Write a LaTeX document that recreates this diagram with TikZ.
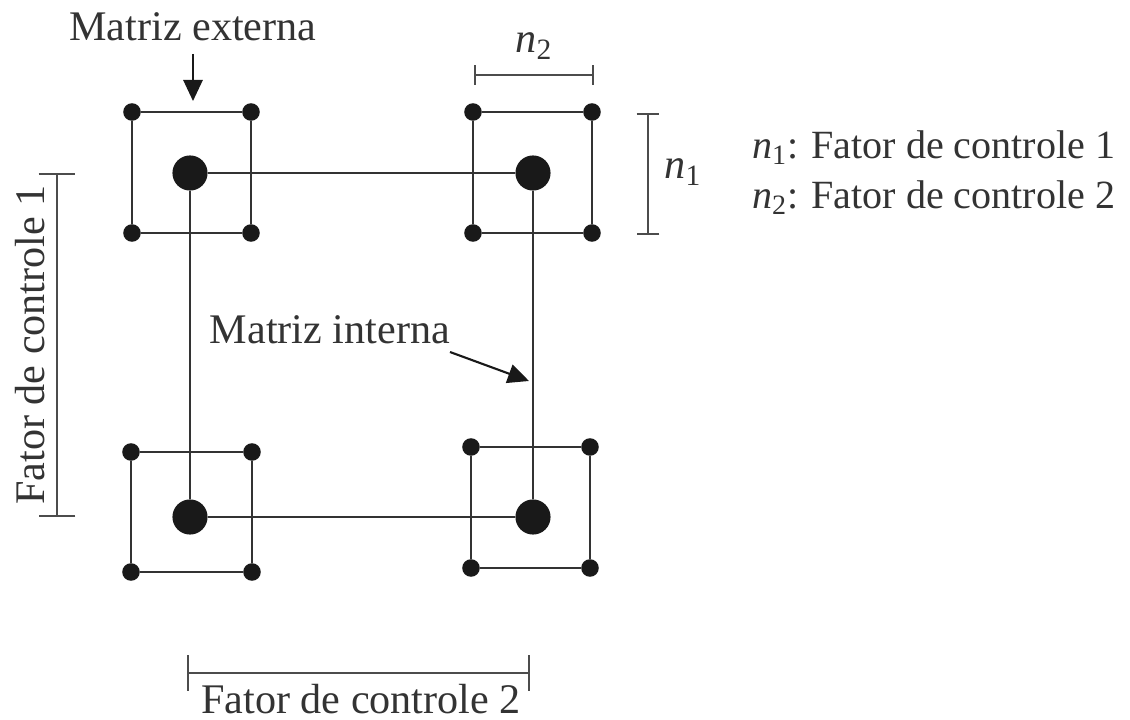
\documentclass[tikz,border=0pt]{standalone}
\usepackage{amsmath}
\usepackage{fontspec}
\setmainfont{Liberation Serif}
\usepackage{tikz}
\usetikzlibrary{arrows.meta}

\newcommand{\nsub}[1]{{\itshape n}\textsubscript{#1}}

\tikzset{
  smalldot/.style={circle, fill=black!90, inner sep=0pt, minimum size=10pt},
  bigdot/.style={circle, fill=black!90, inner sep=0pt, minimum size=20pt},
  edge/.style={draw=black!80, line width=1.4pt},
  link/.style={draw=black!80, line width=1.2pt},
  dimbar/.style={draw=black!70, line width=1.3pt, {Bar[width=#1]}-{Bar[width=#1]}},
  pointer/.style={draw=black!90, line width=1.2pt, -{Triangle[length=12pt,width=11pt]}},
  lbl/.style={font=\fontsize{24}{28}\selectfont, text=black!80, inner sep=1pt},
  keylbl/.style={lbl, font=\fontsize{22.8}{27}\selectfont, anchor=west}
}

\begin{document}
\begin{tikzpicture}[x=0.02cm, y=-0.02cm]
        \useasboundingbox (0,0) rectangle (1130,720);

        % outer matrix: four squares
        \node[smalldot] (a1) at (132,112) {};
        \node[smalldot] (a2) at (251,112) {};
        \node[smalldot] (a3) at (251,233) {};
        \node[smalldot] (a4) at (132,233) {};

        \node[smalldot] (b1) at (473,112) {};
        \node[smalldot] (b2) at (592,112) {};
        \node[smalldot] (b3) at (592,233) {};
        \node[smalldot] (b4) at (473,233) {};

        \node[smalldot] (c1) at (131,452) {};
        \node[smalldot] (c2) at (252,452) {};
        \node[smalldot] (c3) at (252,572) {};
        \node[smalldot] (c4) at (131,572) {};

        \node[smalldot] (d1) at (471,447) {};
        \node[smalldot] (d2) at (590,447) {};
        \node[smalldot] (d3) at (590,568) {};
        \node[smalldot] (d4) at (471,568) {};

        \draw[edge] (a1) -- (a2) -- (a3) -- (a4) -- (a1);
        \draw[edge] (b1) -- (b2) -- (b3) -- (b4) -- (b1);
        \draw[edge] (c1) -- (c2) -- (c3) -- (c4) -- (c1);
        \draw[edge] (d1) -- (d2) -- (d3) -- (d4) -- (d1);

        % inner matrix
        \node[bigdot] (pa) at (190,173) {};
        \node[bigdot] (pb) at (533,173) {};
        \node[bigdot] (pc) at (190,517) {};
        \node[bigdot] (pd) at (533,517) {};

        \draw[link] (pa) -- (pb);
        \draw[link] (pb) -- (pd);
        \draw[link] (pd) -- (pc);
        \draw[link] (pc) -- (pa);

        % dimensions
        \coordinate (t1) at (474,75);
        \coordinate (t2) at (594,75);
        \draw[dimbar=11pt] (t1) -- (t2);
        \node[lbl] (nb) at (534,46) {\nsub{2}};

        \coordinate (r1) at (648,113);
        \coordinate (r2) at (648,235);
        \draw[dimbar=13pt] (r1) -- (r2);
        \node[lbl] (na) at (683,172) {\nsub{1}};

        \coordinate (l1) at (57,173);
        \coordinate (l2) at (57,517);
        \draw[dimbar=21pt] (l1) -- (l2);
        \node[lbl, rotate=90] (fa) at (30,345) {Fator de controle 1};

        \coordinate (f1) at (187,673);
        \coordinate (f2) at (530,673);
        \draw[dimbar=20pt] (f1) -- (f2);
        \node[lbl] (fb) at (361,699) {Fator de controle 2};

        % legend
        \node[keylbl] (k1) at (750,148) {\nsub{1}: Fator de controle 1};
        \node[keylbl] (k2) at (750,198) {\nsub{2}: Fator de controle 2};

        % pointers
        \node[lbl] (ext) at (193,27) {Matriz externa};
        \coordinate (e1) at (193,101);
        \draw[pointer, shorten <=6pt] (ext) -- (e1);

        \node[lbl] (int) at (330,330) {Matriz interna};
        \coordinate (i1) at (529,381);
        \draw[pointer] (450,352) -- (i1);
\end{tikzpicture}
\end{document}
